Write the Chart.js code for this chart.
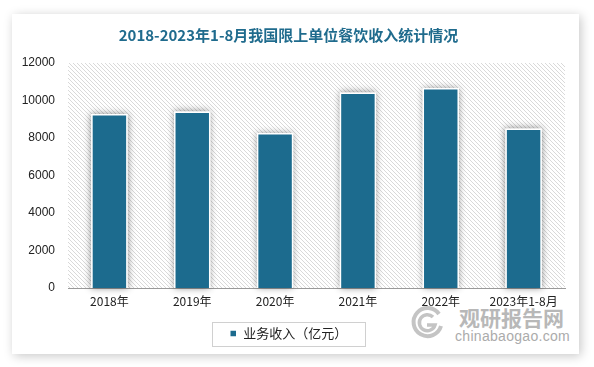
<!DOCTYPE html>
<html>
<head>
<meta charset="utf-8">
<script src="https://cdn.jsdelivr.net/npm/chart.js@4.4.0/dist/chart.umd.min.js"></script>
<style>
  html, body { margin: 0; padding: 0; background: #fff; }
  body { width: 594px; height: 367px; position: relative; overflow: hidden; }
  #card {
    position: absolute; left: 12px; top: 14px; width: 567px; height: 340px;
    background: #fff; box-shadow: 2px 2px 10px rgba(0, 0, 0, 0.22);
  }
  #chartBox { position: absolute; left: 0; top: 0; width: 567px; height: 340px; z-index: 1; }
  .wm { position: absolute; z-index: 0; white-space: nowrap; }
  #wmLogo { left: 397px; top: 290px; }
  #wmName { left: 447px; top: 288px; font: bold 21px "Noto Sans CJK SC", sans-serif; color: #b8b8b8; letter-spacing: 0px; }
  #wmSite { left: 443px; top: 314px; font: 14px "Liberation Sans", Arial, sans-serif; color: #ababab; letter-spacing: 0.3px; }
</style>
</head>
<body>
<div id="card">
  <svg id="wmLogo" class="wm" width="36" height="36" viewBox="0 0 36 36">
    <path d="M30 10 A14 14 0 1 0 32 22" fill="none" stroke="#c4c4c4" stroke-width="4"/>
    <path d="M24 13 A8 8 0 1 0 26 21 L18 21" fill="none" stroke="#c4c4c4" stroke-width="3.5"/>
  </svg>
  <div id="wmName" class="wm">观研报告网</div>
  <div id="wmSite" class="wm">chinabaogao.com</div>
  <div id="chartBox"><canvas id="revenueChart"></canvas></div>
</div>
<script>
// chart data
const titleText = '2018-2023年1-8月我国限上单位餐饮收入统计情况';
const seriesName = '业务收入（亿元）';
const categories = ['2018年', '2019年', '2020年', '2021年', '2022年', '2023年1-8月'];
const revenue = [9280, 9420, 8270, 10430, 10670, 8510];
const yTicks = [0, 2000, 4000, 6000, 8000, 10000, 12000];

const barColor = '#1c6b8e';

// diagonal hatch for plot background
function makeHatch() {
    const c = document.createElement('canvas');
    c.width = 4; c.height = 4;
    const g = c.getContext('2d');
    g.fillStyle = '#ffffff';
    g.fillRect(0, 0, 4, 4);
    g.fillStyle = '#d9d9d9';
    for (let i = 0; i < 4; i++) g.fillRect(i, i, 1, 1);
    return g.createPattern(c, 'repeat');
}

const plotDecor = {
    id: 'plotDecor',
    beforeDatasetsDraw(chart) {
        const { ctx, chartArea: a } = chart;
        ctx.save();
        ctx.fillStyle = makeHatch();
        ctx.fillRect(a.left, a.top, a.right - a.left, a.bottom - a.top);
        // soft glow behind each bar
        const meta = chart.getDatasetMeta(0);
        ctx.shadowColor = 'rgba(0,0,0,0.45)';
        ctx.shadowBlur = 7;
        ctx.fillStyle = '#ffffff';
        meta.data.forEach(bar => {
            const p = bar.getProps(['x', 'y', 'base', 'width'], true);
            ctx.fillRect(p.x - p.width / 2, p.y, p.width, p.base - p.y);
        });
        ctx.restore();
    },
    afterDraw(chart) {
        // framed legend
        const hb = chart.legend.legendHitBoxes[0];
        if (!hb) return;
        const { ctx } = chart;
        const cy = hb.top + hb.height / 2;
        ctx.save();
        ctx.strokeStyle = '#d0d0d0';
        ctx.lineWidth = 1;
        ctx.strokeRect(Math.round(hb.left - 18) + 0.5, Math.round(cy - 12) + 0.5, Math.round(hb.width + 35), 24);
        ctx.restore();
    }
};

const ctx = document.getElementById('revenueChart').getContext('2d');
new Chart(ctx, {
    type: 'bar',
    data: {
        labels: categories,
        datasets: [{
            label: seriesName,
            data: revenue,
            backgroundColor: barColor,
            borderColor: '#ffffff',
            borderWidth: 1.5,
            categoryPercentage: 1,
            barPercentage: 0.44
        }]
    },
    options: {
        responsive: true,
        maintainAspectRatio: false,
        animation: false,
        layout: { padding: { left: 0, right: 14, top: 0, bottom: 4 } },
        plugins: {
            title: {
                display: true,
                text: titleText,
                color: '#1f6b8d',
                font: { family: '"Noto Sans CJK SC", sans-serif', size: 15, weight: 'bold' },
                padding: { top: 12, bottom: 19 }
            },
            legend: {
                position: 'bottom',
                labels: {
                    boxWidth: 7,
                    boxHeight: 7,
                    color: '#222',
                    font: { family: '"Noto Sans CJK SC", sans-serif', size: 13 },
                    padding: 10
                }
            },
            tooltip: { enabled: false }
        },
        scales: {
            x: {
                grid: { display: false, drawTicks: false },
                border: { display: true, color: '#9a9a9a', width: 1 },
                ticks: {
                    color: '#222',
                    font: { family: '"Noto Sans CJK SC", sans-serif', size: 12 },
                    padding: 6,
                    maxRotation: 0,
                    autoSkip: false
                },
                afterFit(scale) { scale.height = 29; }
            },
            y: {
                min: 0,
                max: 12000,
                grid: { display: false, drawTicks: false },
                border: { display: false },
                afterBuildTicks(scale) { scale.ticks = yTicks.map(v => ({ value: v })); },
                ticks: {
                    color: '#222',
                    font: { family: '"Liberation Sans", Arial, sans-serif', size: 12 },
                    padding: 13,
                    callback: v => String(v)
                },
                afterFit(scale) { scale.width = 56; }
            }
        }
    },
    plugins: [plotDecor]
});
</script>
</body>
</html>
